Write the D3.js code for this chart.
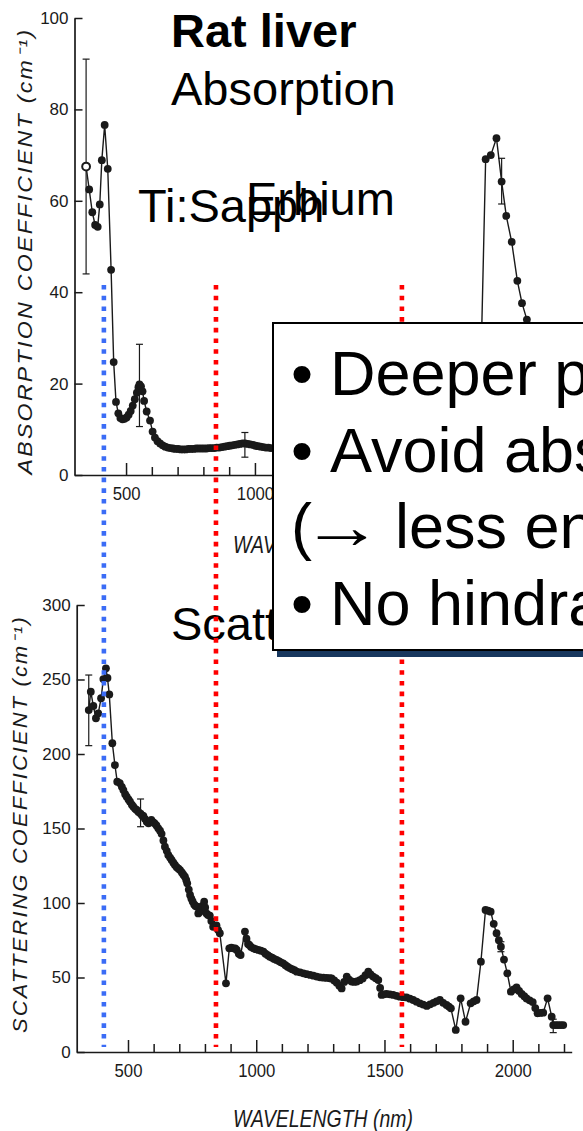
<!DOCTYPE html>
<html>
<head>
<meta charset="utf-8">
<script src="https://cdn.jsdelivr.net/npm/d3@7"></script>
<style>
  html, body { margin: 0; padding: 0; background: #fff; }
  svg { display: block; font-family: "Liberation Sans", Arial, Helvetica, sans-serif; }
</style>
</head>
<body>
<svg id="chart" width="583" height="1131"></svg>
<script>
// ---- Rat liver optical properties: [wavelength nm, coefficient cm^-1] ----
const absorption = [
  [345,67.5],[357,62.5],[369,57.5],[380,54.7],[390,54.3],[398,59.2],[406,68.9],[417,76.6],
  [429,67],[442,44.9],[452,24.7],[461,16],[470,13.5],[478,12.5],[486,12.2],[494,12.3],
  [502,12.6],[510,13.2],[518,14],[526,15.2],[534,16.6],[542,18],[548,19.2],[552,19.8],
  [558,19.4],[564,18.3],[570,16.2],[580,13.9],[593,11.9],[603,9.5],[612,8.2],[622,7.4],
  [632,6.9],[642,6.5],[652,6.2],[662,6.0],[672,5.9],[682,5.8],[692,5.7],[702,5.7],
  [712,5.6],[722,5.6],[732,5.6],[742,5.7],[752,5.7],[762,5.7],[772,5.8],[782,5.8],
  [792,5.8],[802,5.8],[812,5.8],[822,5.9],[832,5.9],[842,5.9],[852,6.0],[862,6.0],
  [872,6.1],[882,6.2],[892,6.3],[902,6.4],[912,6.5],[922,6.6],[932,6.7],[942,6.8],
  [952,6.9],[962,6.9],[972,6.8],[982,6.7],[992,6.6],[1002,6.4],[1012,6.3],[1022,6.2],
  [1032,6.1],[1042,6.0],[1052,6.0],[1062,5.9],
  [1875,20],[1895,69.1],[1915,70],[1937,73.7],[1957,64.2],[1975,56.7],[1996,51],
  [2018,42.5],[2036,37.6],[2055,34],[2075,30]
];
// [wavelength, low, high]
const absorptionErr = [[345,44,91],[552,10.6,28.6],[961,3.9,9.3],[1957,59.3,69.3]];

const scattering = [
  [347,229.5],[355,241.8],[365,232.2],[375,224],[384,227.3],[395,237.4],[404,250.3],[414,257.5],
  [420,251],[427,240],[439,207.2],[449,192.6],[458,181.4],[468,180.5],[476,178],[482,175.8],
  [489,173],[495,171.3],[502,169.5],[508,168],[515,166],[521,164.6],[528,163.2],[534,162.4],
  [541,161],[549,160],[555,158.8],[560,158.4],[566,156.5],[573,154.6],[580,153.5],[586,154.8],
  [591,155.7],[598,154.2],[604,153.5],[611,152],[618,150.1],[625,148.5],[631,146.4],[638,142],
  [644,137.8],[651,135],[657,132.2],[664,130.5],[670,128.9],[677,127],[683,125.5],[690,124],
  [697,123],[703,122.1],[710,120.5],[716,119],[722,117.7],[727,115.5],[731,113.2],[737,109],
  [742,105.4],[747,103],[752,101],[758,99],[763,98],[769,97.5],[774,93],[779,94],[784,95],
  [790,98],[797,100.9],[801,97],[806,93],[812,92],[819,91.5],[825,88],[832,84],[838,84.5],
  [845,85],[851,82],[858,79.7],[882,46.1],[895,69.6],[903,70],[911,69.6],[918,69.5],
  [924,68.5],[932,66],[939,65.1],[956,80.8],[962,76],[968,72.5],[973,71.8],[980,70.5],
  [989,69.6],[998,69],[1008,68.5],[1018,68],[1028,67.4],[1036,66],[1045,65],[1053,64],
  [1062,63.3],[1070,62.5],[1079,61.8],[1088,61],[1096,60.2],[1105,59.5],[1114,58.3],[1122,57.2],
  [1131,56.3],[1140,55.6],[1149,54.9],[1158,53.9],[1171,53.5],[1184,52.8],[1197,52.2],[1210,51.7],
  [1223,51.2],[1236,50.6],[1249,50.1],[1262,49.9],[1275,49.7],[1287,49.5],[1294,49.4],[1304,48],
  [1314,46.5],[1324,44.5],[1333,42.7],[1343,47],[1353,50.6],[1362,48.5],[1372,47.3],[1382,47],
  [1392,47.3],[1404,48.2],[1415,49.4],[1426,51.5],[1437,53.9],[1446,52],[1456,50.6],[1466,49.5],
  [1476,48.3],[1483,43],[1489,38.3],[1498,38.7],[1508,39],[1521,38.7],[1534,38.3],[1547,37.7],
  [1560,37.1],[1573,36.8],[1586,36.6],[1599,35.8],[1612,34.9],[1625,33.8],[1638,32.7],[1651,31.8],
  [1665,30.9],[1678,32],[1691,33],[1703,34],[1716,34.9],[1729,33],[1742,31.6],[1751,30.5],
  [1759,29.3],[1778,14.8],[1797,36],[1816,20.3],[1836,32.7],[1848,34],[1859,34.9],[1876,60.6],
  [1894,95.3],[1904,94.8],[1914,94.2],[1926,86],[1937,79.7],[1946,75],[1954,70.7],[1966,62],
  [1979,52.8],[1993,40.5],[2004,42],[2015,43.4],[2025,41],[2035,39],[2045,37.5],[2054,35.9],
  [2066,34.7],[2078,33.5],[2088,29.5],[2097,26],[2108,26.2],[2119,26.4],[2136,36],[2152,23.7],
  [2158,18.1],[2168,18.1],[2177,18.1],[2187,18.1],[2197,18.1]
];
const scatteringErr = [[347,205.6,253],[549,151.2,169.8],[1954,67.3,74],[2158,13,22]];

// axis ticks
const wavelengthTicks = d3.range(500, 2201, 100);
const wavelengthLabels = [500, 1000, 1500, 2000];
const absorptionTicks = [0, 20, 40, 60, 80, 100];
const scatteringTicks = [0, 50, 100, 150, 200, 250, 300];

// laser lines: Ti:Sapphire (SHG), Ti:Sapphire, Erbium fibre
const laserWavelengths = [406, 843, 1568];
const laserColors = ["#3b6cf6", "#ff0000", "#ff0000"];

// text
const titleBold = "Rat liver";
const titleAbs = "Absorption";
const titleScat = "Scattering";
const laserLabels = ["Ti:Sapph", "Erbium"];
const absAxisTitle = "ABSORPTION  COEFFICIENT  (cm\u207B\u00B9)";
const scatAxisTitle = "SCATTERING  COEFFICIENT  (cm\u207B\u00B9)";
const xAxisTitle = "WAVELENGTH  (nm)";
const boxBullets = ["Deeper penetration", "Avoid absorption", null, "No hindrance"];
const boxNote = "less energy deposition)";

const svg = d3.select("#chart");
const ink = "#1a1a1a";

// ---------- scales ----------
const absX = d3.scaleLinear().domain([300, 2230]).range([74.5, 572]);
const absY = d3.scaleLinear().domain([0, 100]).range([475, 18]);
const scatX = d3.scaleLinear().domain([300, 2230]).range([76.7, 571.7]);
const scatY = d3.scaleLinear().domain([0, 300]).range([1052, 605]);

function drawPanel(x, y, yTicks, data, errs, openFirst, xTitleBaseline, yTitle, yTitleX) {
  const g = svg.append("g");

  // y axis
  const ya = g.append("g")
    .attr("transform", `translate(${x.range()[0]},0)`)
    .call(d3.axisLeft(y).tickValues(yTicks).tickSizeInner(-8).tickSizeOuter(0).tickPadding(6));
  ya.selectAll("text").attr("font-size", 17).attr("fill", ink)
    .attr("font-family", "'Liberation Sans', Arial, sans-serif");

  // x axis
  const xa = g.append("g")
    .attr("transform", `translate(0,${y(0)})`)
    .call(d3.axisBottom(x).tickValues(wavelengthTicks).tickSizeInner(-8).tickSizeOuter(0).tickPadding(12)
      .tickFormat(d => wavelengthLabels.includes(d) ? d : ""));
  xa.selectAll(".tick line").filter(d => d % 500 === 0).attr("y2", -12);
  xa.selectAll("text").attr("font-size", 19).attr("fill", ink)
    .attr("font-family", "'Liberation Sans', Arial, sans-serif")
    .attr("transform", "scale(0.88,1)");

  [ya, xa].forEach(a => {
    a.select(".domain").attr("stroke", ink).attr("stroke-width", 1.7);
    a.selectAll(".tick line").attr("stroke", ink).attr("stroke-width", 1.5);
  });

  // axis titles
  g.append("text")
    .attr("x", 233).attr("y", xTitleBaseline)
    .attr("font-size", 24).attr("font-style", "italic").attr("fill", ink)
    .attr("textLength", 180).attr("lengthAdjust", "spacingAndGlyphs")
    .text(xAxisTitle);

  g.append("text")
    .attr("transform", `translate(${yTitleX},${(y.range()[0] + y.range()[1]) / 2 + yTitle.shift}) rotate(-90)`)
    .attr("text-anchor", "middle")
    .attr("font-size", 20).attr("font-style", "italic").attr("fill", ink)
    .attr("letter-spacing", 2)
    .attr("textLength", yTitle.len).attr("lengthAdjust", "spacingAndGlyphs")
    .text(yTitle.text);

  // error bars
  const eb = g.append("g").attr("stroke", ink).attr("stroke-width", 1.2);
  errs.forEach(([nm, lo, hi]) => {
    eb.append("line").attr("x1", x(nm)).attr("x2", x(nm)).attr("y1", y(lo)).attr("y2", y(hi));
    [lo, hi].forEach(v => eb.append("line")
      .attr("x1", x(nm) - 3.5).attr("x2", x(nm) + 3.5).attr("y1", y(v)).attr("y2", y(v)));
  });

  // curve
  const line = d3.line().x(d => x(d[0])).y(d => y(d[1]));
  g.append("path").datum(data)
    .attr("d", line).attr("fill", "none").attr("stroke", ink).attr("stroke-width", 1.4);

  // markers
  g.append("g").selectAll("circle").data(data).join("circle")
    .attr("cx", d => x(d[0])).attr("cy", d => y(d[1])).attr("r", 3.9)
    .attr("fill", (d, i) => (openFirst && i === 0) ? "#fff" : ink)
    .attr("stroke", ink).attr("stroke-width", (d, i) => (openFirst && i === 0) ? 2 : 0);
}

drawPanel(absX, absY, absorptionTicks, absorption, absorptionErr, true, 553,
  { text: absAxisTitle, len: 447, shift: 4.5 }, 32);
drawPanel(scatX, scatY, scatteringTicks, scattering, scatteringErr, false, 1127,
  { text: scatAxisTitle, len: 418, shift: -4.5 }, 27);

// ---------- headings ----------
const heads = svg.append("g").attr("fill", "#000").attr("font-size", 47);
heads.append("text").attr("x", 171).attr("y", 47).attr("font-weight", "bold").text(titleBold);
heads.append("text").attr("x", 171).attr("y", 105).text(titleAbs);
heads.append("text").attr("x", 138).attr("y", 222).text(laserLabels[0]);
heads.append("text").attr("x", 246).attr("y", 215).text(laserLabels[1]);
heads.append("text").attr("x", 171).attr("y", 640).text(titleScat);

// ---------- laser wavelength markers (dotted verticals spanning both panels) ----------
svg.append("g").selectAll("line").data(laserWavelengths).join("line")
  .attr("x1", d => scatX(d)).attr("x2", d => scatX(d))
  .attr("y1", 285).attr("y2", 1047)
  .attr("stroke", (d, i) => laserColors[i])
  .attr("stroke-width", 4.6)
  .attr("stroke-dasharray", "4.6 6.1");

// ---------- callout box ----------
const defs = svg.append("defs");
defs.append("clipPath").attr("id", "view")
  .append("rect").attr("x", 0).attr("y", 0).attr("width", 583).attr("height", 1131);
const box = svg.append("g").attr("clip-path", "url(#view)");
box.append("rect").attr("x", 277).attr("y", 330).attr("width", 340).attr("height", 327)
  .attr("fill", "#17375e");
box.append("rect").attr("x", 273).attr("y", 323).attr("width", 340).attr("height", 327)
  .attr("fill", "#fff").attr("stroke", "#000").attr("stroke-width", 2);

const boxText = box.append("g").attr("font-size", 63).attr("fill", "#000");
boxBullets.forEach((t, i) => {
  const yb = 395 + i * 76.7;
  if (t) {
    boxText.append("text").attr("x", 291).attr("y", yb).text("\u2022");
    boxText.append("text").attr("x", 330).attr("y", yb).text(t);
  } else {
    // continuation line: "(→ less energy …"
    boxText.append("text").attr("x", 291).attr("y", yb).text("(");
    boxText.append("text").attr("transform", `translate(301,${yb}) scale(1.3,1)`).text("\u2192");
    boxText.append("text").attr("x", 395).attr("y", yb).text(boxNote);
  }
});
</script>
</body>
</html>
